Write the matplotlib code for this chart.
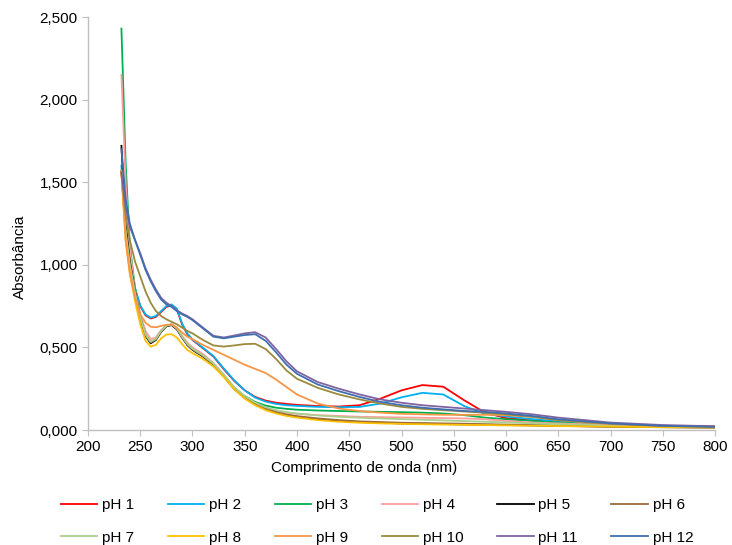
import matplotlib
matplotlib.use("Agg")
import matplotlib.pyplot as plt
from matplotlib.ticker import FuncFormatter

# Wavelengths (nm) and absorbance
wavelength = [232, 236, 240, 245, 250, 255, 260, 265, 270, 275, 280, 285, 290, 295, 300,
              310, 320, 330, 340, 350, 360, 370, 380, 390, 400, 420, 440, 460, 480, 500,
              520, 540, 560, 580, 600, 625, 650, 700, 750, 800]

ph1 = [1.560, 1.200, 1.000, 0.850, 0.750, 0.695, 0.675, 0.685, 0.715, 0.745,
       0.755, 0.730, 0.640, 0.580, 0.545, 0.495, 0.445, 0.368, 0.297, 0.240,
       0.200, 0.178, 0.165, 0.158, 0.152, 0.145, 0.142, 0.150, 0.190, 0.240,
       0.272, 0.262, 0.180, 0.105, 0.072, 0.058, 0.048, 0.032, 0.024, 0.020]
ph2 = [1.600, 1.220, 1.010, 0.860, 0.755, 0.700, 0.680, 0.690, 0.720, 0.750,
       0.760, 0.735, 0.645, 0.585, 0.548, 0.498, 0.448, 0.372, 0.300, 0.240,
       0.196, 0.172, 0.158, 0.150, 0.146, 0.140, 0.138, 0.140, 0.160, 0.198,
       0.225, 0.215, 0.145, 0.098, 0.082, 0.066, 0.052, 0.034, 0.026, 0.020]
ph3 = [2.430, 1.620, 1.120, 0.860, 0.690, 0.580, 0.532, 0.550, 0.598, 0.630,
       0.640, 0.615, 0.565, 0.525, 0.495, 0.455, 0.400, 0.330, 0.255, 0.205,
       0.170, 0.148, 0.135, 0.128, 0.123, 0.118, 0.115, 0.112, 0.110, 0.108,
       0.105, 0.100, 0.090, 0.075, 0.065, 0.055, 0.045, 0.030, 0.022, 0.018]
ph4 = [2.150, 1.500, 1.100, 0.850, 0.700, 0.600, 0.550, 0.560, 0.605, 0.632,
       0.640, 0.618, 0.570, 0.530, 0.500, 0.460, 0.405, 0.335, 0.255, 0.200,
       0.160, 0.130, 0.115, 0.105, 0.098, 0.090, 0.085, 0.080, 0.078, 0.076,
       0.074, 0.072, 0.070, 0.065, 0.055, 0.045, 0.040, 0.030, 0.026, 0.025]
ph5 = [1.720, 1.250, 1.020, 0.840, 0.680, 0.570, 0.525, 0.545, 0.595, 0.628,
       0.635, 0.610, 0.560, 0.515, 0.485, 0.445, 0.395, 0.325, 0.248, 0.195,
       0.155, 0.125, 0.105, 0.090, 0.080, 0.065, 0.055, 0.048, 0.044, 0.040,
       0.038, 0.036, 0.034, 0.032, 0.030, 0.028, 0.025, 0.020, 0.017, 0.015]
ph6 = [1.570, 1.220, 1.010, 0.835, 0.682, 0.575, 0.530, 0.548, 0.598, 0.630,
       0.638, 0.612, 0.562, 0.518, 0.488, 0.448, 0.398, 0.328, 0.252, 0.198,
       0.158, 0.128, 0.108, 0.094, 0.084, 0.070, 0.060, 0.052, 0.048, 0.044,
       0.042, 0.040, 0.038, 0.035, 0.033, 0.030, 0.027, 0.022, 0.018, 0.016]
ph7 = [1.560, 1.200, 1.000, 0.830, 0.685, 0.578, 0.535, 0.552, 0.600, 0.632,
       0.640, 0.616, 0.566, 0.522, 0.492, 0.452, 0.402, 0.332, 0.258, 0.205,
       0.166, 0.138, 0.120, 0.108, 0.100, 0.088, 0.080, 0.074, 0.070, 0.066,
       0.062, 0.058, 0.054, 0.050, 0.046, 0.040, 0.035, 0.028, 0.022, 0.018]
ph8 = [1.560, 1.150, 0.950, 0.780, 0.640, 0.540, 0.505, 0.515, 0.555, 0.578,
       0.580, 0.560, 0.520, 0.485, 0.465, 0.430, 0.385, 0.320, 0.245, 0.190,
       0.150, 0.120, 0.100, 0.085, 0.075, 0.060, 0.050, 0.044, 0.040, 0.037,
       0.035, 0.033, 0.031, 0.030, 0.028, 0.026, 0.024, 0.020, 0.017, 0.015]
ph9 = [1.570, 1.150, 0.950, 0.800, 0.700, 0.650, 0.625, 0.622, 0.630, 0.637,
       0.638, 0.620, 0.590, 0.565, 0.550, 0.515, 0.485, 0.455, 0.425, 0.395,
       0.370, 0.345, 0.305, 0.260, 0.215, 0.160, 0.130, 0.115, 0.105, 0.098,
       0.095, 0.092, 0.092, 0.092, 0.090, 0.080, 0.060, 0.035, 0.025, 0.020]
ph10 = [1.560, 1.300, 1.150, 1.020, 0.930, 0.840, 0.770, 0.720, 0.690, 0.670,
        0.655, 0.640, 0.620, 0.600, 0.585, 0.545, 0.512, 0.505, 0.512, 0.520,
        0.522, 0.490, 0.430, 0.360, 0.310, 0.255, 0.215, 0.185, 0.160, 0.140,
        0.128, 0.120, 0.112, 0.105, 0.095, 0.080, 0.060, 0.038, 0.025, 0.018]
ph11 = [1.560, 1.350, 1.230, 1.150, 1.070, 0.980, 0.910, 0.850, 0.800, 0.770,
        0.750, 0.725, 0.705, 0.690, 0.670, 0.620, 0.570, 0.560, 0.572, 0.585,
        0.592, 0.560, 0.490, 0.415, 0.355, 0.290, 0.250, 0.215, 0.185, 0.165,
        0.150, 0.140, 0.130, 0.120, 0.110, 0.095, 0.075, 0.045, 0.030, 0.022]
ph12 = [1.700, 1.400, 1.250, 1.150, 1.060, 0.970, 0.900, 0.840, 0.790, 0.760,
        0.745, 0.720, 0.700, 0.685, 0.665, 0.615, 0.565, 0.555, 0.565, 0.575,
        0.580, 0.540, 0.470, 0.395, 0.340, 0.275, 0.235, 0.200, 0.170, 0.150,
        0.135, 0.125, 0.115, 0.110, 0.100, 0.085, 0.065, 0.040, 0.025, 0.020]

labels = ["pH 1", "pH 2", "pH 3", "pH 4", "pH 5", "pH 6",
          "pH 7", "pH 8", "pH 9", "pH 10", "pH 11", "pH 12"]
series = [ph1, ph2, ph3, ph4, ph5, ph6, ph7, ph8, ph9, ph10, ph11, ph12]
colors = ["#ff0000", "#00b0f0", "#00b050", "#ff9d9d", "#000000", "#9a6a3a",
          "#a9d08e", "#ffc000", "#f79646", "#9c8a3c", "#8064a2", "#3f6fae"]

plt.rcParams['font.family'] = ['Liberation Sans', 'DejaVu Sans']

fig = plt.figure(figsize=(7.32, 5.45), dpi=100)
ax = fig.add_axes([0.1202, 0.211, 0.8566, 0.7578])

lines = []
for vals, lab, col in zip(series, labels, colors):
    ln, = ax.plot(wavelength, vals, color=col, linewidth=1.3, label=lab)
    lines.append(ln)

ax.set_xlim(200, 800)
ax.set_ylim(0, 2.5)
ax.set_xticks(range(200, 801, 50))
ax.set_yticks([0, 0.5, 1.0, 1.5, 2.0, 2.5])
ax.yaxis.set_major_formatter(FuncFormatter(lambda v, p: "{:,.3f}".format(v).replace(".", ",")))

for side in ["top", "right"]:
    ax.spines[side].set_visible(False)
for side in ["left", "bottom"]:
    ax.spines[side].set_color("#bfbfbf")
    ax.spines[side].set_linewidth(1.0)
ax.tick_params(axis="both", colors="#bfbfbf", length=4, labelsize=11, labelcolor="#000000")

ax.set_xlabel("Comprimento de onda (nm)", fontsize=11, labelpad=7)
ax.xaxis.set_label_coords(0.44, -0.075)
ax.set_ylabel("Absorbância", fontsize=11, labelpad=6)
ax.yaxis.set_label_coords(-0.098, 0.42)

# Legend order row by row: pH 1..6 then pH 7..12
order = [0, 6, 1, 7, 2, 8, 3, 9, 4, 10, 5, 11]
fig.legend([lines[i] for i in order], [labels[i] for i in order],
           loc="upper center", bbox_to_anchor=(0.515, 0.097), ncol=6, frameon=False,
           fontsize=11, handlelength=2.4, handletextpad=0.3, columnspacing=2.2,
           labelspacing=1.2, borderaxespad=0)

fig.savefig("out.png", dpi=100)
